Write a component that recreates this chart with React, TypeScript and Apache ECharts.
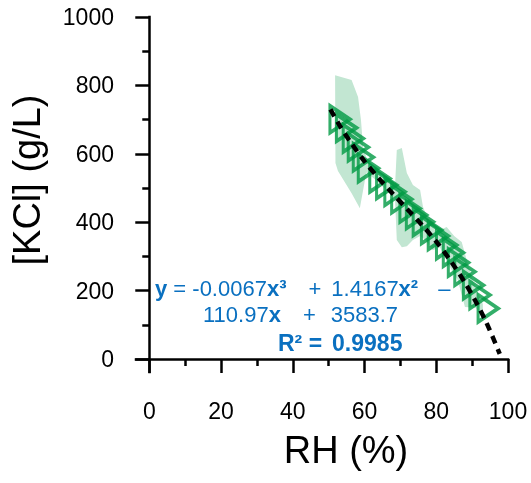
import React, { useEffect, useRef } from 'react';
import * as echarts from 'echarts';

const rhMajorTicks = [0, 20, 40, 60, 80, 100];
const rhMinorTicks = [10, 30, 50, 70, 90];
const kclMajorTicks = [0, 200, 400, 600, 800, 1000];
const kclMinorTicks = [100, 300, 500, 700, 900];

// measured points (RH %, [KCl] g/L)
const measuredRH = [51.2, 53.0, 54.9, 56.3, 57.7, 59.1, 62.3, 64.2, 66.5, 68.4, 70.7, 72.5, 74.4, 76.7, 78.6, 80.9, 82.8, 84.2, 86.0, 88.4, 90.2, 92.5];
const measuredKCl = [701, 676, 645, 619, 590, 558, 528, 509, 489, 467, 440, 421, 401, 377, 360, 333, 311, 282, 255, 216, 187, 148];

// cubic fit trace
const fitRH = [50.5, 53, 56, 60, 64, 68, 72, 76, 80, 84, 88, 91, 94, 97.7];
const fitKCl = [730, 684, 636, 578, 528, 482, 437, 392, 343, 287, 223, 168, 106, 15];

// uncertainty band outline
const bandRH = [51.8, 56.4, 58.2, 59.0, 59.6, 60.5, 63, 66, 68.5, 69.0, 70.4, 71.8, 73.5, 75.5, 76.3, 78, 80, 82.9, 85, 87.1, 88.5, 90, 92, 93,
  93, 91, 88, 86, 84, 81, 79, 77, 75.5, 73.5, 71.8, 70.4, 69.0, 68.5, 66, 63, 60.5, 58.7, 56.4, 52.6, 51.9];
const bandKCl = [830, 816, 766, 700, 620, 590, 560, 528, 505, 611, 617, 544, 509, 494, 445, 400, 372, 386, 360, 342, 289, 235, 185, 160,
  120, 150, 152, 230, 265, 327, 318, 348, 360, 348, 330, 327, 348, 470, 495, 525, 545, 441, 485, 550, 573];

const eqLine1 = '{b|y} = -0.0067{b|x³}{op|+}1.4167{b|x²}{dash|–}';
const eqLine2 = '110.97{b|x}{op2|+}3583.7';
const eqLine3 = 'R² {eq|=}0.9985';

const FONT = "'Liberation Sans', Arial, Helvetica, sans-serif";
const GREEN = '#009a44';
const BLUE = '#0a70c0';

export default function App() {
  const ref = useRef<HTMLDivElement>(null);
  useEffect(() => {
    if (!ref.current) return;
    const chart = echarts.init(ref.current, undefined, { renderer: 'svg' });
    const axisLineStyle = { color: '#000', width: 2.5, cap: 'square' as const };
    const labelStyle = { color: '#000', fontSize: 23, fontFamily: FONT, formatter: (v: number) => String(v) };
    const eqBase = { fill: BLUE, fontSize: 22, fontFamily: FONT };
    const eqBold = { fill: BLUE, fontSize: 23, fontFamily: FONT, fontWeight: 'bold' as const };
    chart.setOption({
      animation: false,
      grid: { left: 136, right: 23, top: 17, bottom: 111, containLabel: false },
      xAxis: [
        {
          type: 'value', min: -3.7, max: 100, position: 'bottom',
          name: 'RH (%)', nameLocation: 'middle', nameGap: 59,
          nameTextStyle: { color: '#000', fontSize: 38, fontFamily: FONT, padding: [0, 0, 0, 48] },
          axisLine: { show: true, lineStyle: axisLineStyle },
          axisTick: { show: true, customValues: rhMajorTicks, length: 14, lineStyle: { color: '#000', width: 2.5 } },
          axisLabel: { show: true, customValues: rhMajorTicks, margin: 27, ...labelStyle },
          splitLine: { show: false },
        },
        {
          type: 'value', min: -3.7, max: 100, position: 'bottom',
          axisLine: { show: false },
          axisTick: { show: true, customValues: rhMinorTicks, length: 7, lineStyle: { color: '#000', width: 2.5 } },
          axisLabel: { show: false },
          splitLine: { show: false },
        },
      ],
      yAxis: [
        {
          type: 'value', min: -38, max: 1000, position: 'left',
          name: '[KCl] (g/L)', nameLocation: 'middle', nameGap: 90, nameRotate: 90,
          nameTextStyle: { color: '#000', fontSize: 38, fontFamily: FONT, padding: [0, 0, 0, 29] },
          axisLine: { show: true, lineStyle: axisLineStyle },
          axisTick: { show: true, customValues: kclMajorTicks, length: 14, lineStyle: { color: '#000', width: 2.5 } },
          axisLabel: { show: true, customValues: kclMajorTicks, margin: 22, ...labelStyle },
          splitLine: { show: false },
        },
        {
          type: 'value', min: -38, max: 1000, position: 'left',
          axisLine: { show: false },
          axisTick: { show: true, customValues: kclMinorTicks, length: 7, lineStyle: { color: '#000', width: 2.5 } },
          axisLabel: { show: false },
          splitLine: { show: false },
        },
      ],
      series: [
        {
          type: 'custom',
          xAxisIndex: 0, yAxisIndex: 0,
          silent: true, z: 1,
          data: bandRH.map((x, i) => [x, bandKCl[i]]),
          encode: { x: 0, y: 1 },
          renderItem: (params: any, api: any) => {
            if (params.dataIndex !== 0) return null;
            const points = bandRH.map((x, i) => api.coord([x, bandKCl[i]]));
            return { type: 'polygon', shape: { points }, style: { fill: '#c2e6d2' } };
          },
        },
        {
          type: 'scatter',
          xAxisIndex: 0, yAxisIndex: 0, z: 2,
          data: measuredRH.map((x, i) => [x, measuredKCl[i]]),
          symbol: 'triangle',
          symbolSize: [27, 20],
          symbolRotate: -90,
          symbolOffset: [7, 0],
          itemStyle: { color: 'rgba(0,0,0,0)', borderColor: GREEN, borderWidth: 3.5 },
        },
        {
          type: 'line',
          xAxisIndex: 0, yAxisIndex: 0, z: 3,
          data: fitRH.map((x, i) => [x, fitKCl[i]]),
          smooth: 0.3,
          symbol: 'none',
          lineStyle: { color: '#000', width: 4.5, type: [8, 6] },
        },
      ],
      graphic: [
        {
          type: 'text', left: 155, top: 277, z: 10,
          style: {
            text: eqLine1, ...eqBase,
            rich: {
              b: { ...eqBase, fontWeight: 'bold' },
              op: { ...eqBase, padding: [0, 10, 0, 22] },
              dash: { ...eqBase, padding: [0, 0, 0, 20] },
            },
          },
        },
        {
          type: 'text', left: 203, top: 303, z: 10,
          style: {
            text: eqLine2, ...eqBase,
            rich: {
              b: { ...eqBase, fontWeight: 'bold' },
              op2: { ...eqBase, padding: [0, 15, 0, 22] },
            },
          },
        },
        {
          type: 'text', left: 278, top: 331, z: 10,
          style: {
            text: eqLine3, ...eqBold,
            rich: { eq: { ...eqBold, padding: [0, 10, 0, 0] } },
          },
        },
      ],
    });
    return () => chart.dispose();
  }, []);
  return <div ref={ref} style={{ position: 'fixed', left: 0, top: 0, width: 531, height: 483 }} />;
}
